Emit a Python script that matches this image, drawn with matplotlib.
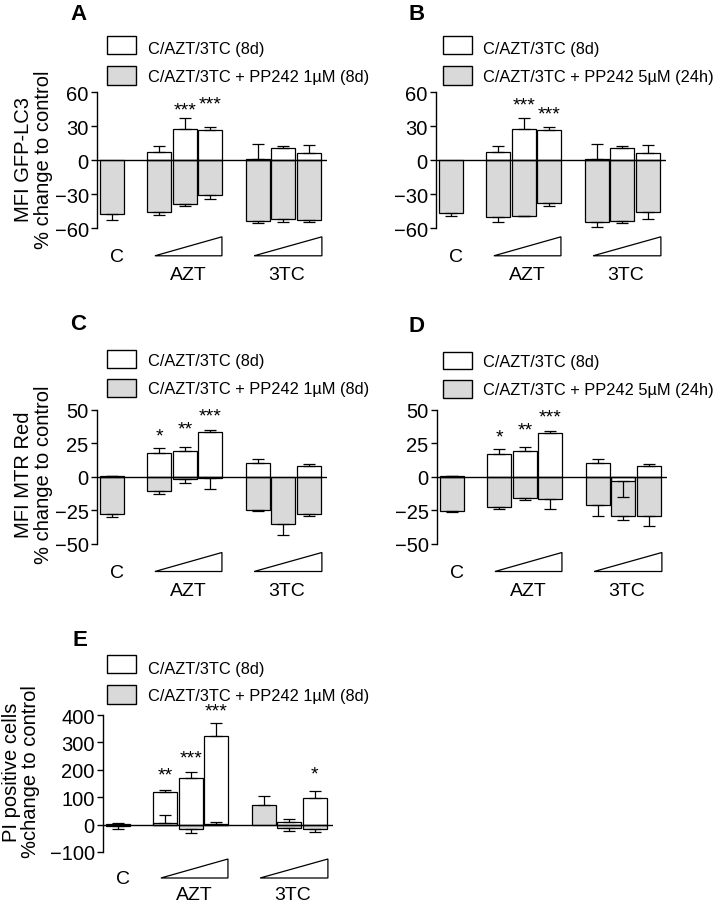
import numpy as np
import matplotlib
matplotlib.use("Agg")
import matplotlib.pyplot as plt
from matplotlib.patches import Rectangle, Polygon
from matplotlib import transforms

plt.rcParams['font.family'] = ['Liberation Sans', 'DejaVu Sans']

nan = np.nan
# ---------------- data ----------------
positions = [0.6, 2.45, 3.45, 4.45, 6.3, 7.3, 8.3]
legend_white = "C/AZT/3TC (8d)"
legend_grey_1 = "C/AZT/3TC + PP242 1\u00b5M (8d)"
legend_grey_5 = "C/AZT/3TC + PP242 5\u00b5M (24h)"

# Panel A: MFI GFP-LC3, PP242 1uM (8d)
A_white = [nan, 7.6, 27.6, 26.8, 1.0, 10.6, 6.5]
A_white_err = [nan, 5.0, 9.4, 2.3, 13.7, 2.0, 7.3]
A_grey = [-47.6, -45.6, -38.8, -30.9, -53.8, -52.0, -52.4]
A_grey_err = [5.4, 2.6, 1.5, 3.1, 1.8, 2.0, 2.0]
A_stars = ["", "", "***", "***", "", "", ""]
A_star_y = [nan, nan, 44.7, 50.0, nan, nan, nan]

# Panel B: MFI GFP-LC3, PP242 5uM (24h)
B_white = [nan, 7.6, 27.6, 26.8, 1.0, 10.6, 6.5]
B_white_err = [nan, 5.0, 9.4, 2.3, 13.7, 2.0, 7.3]
B_grey = [-46.5, -50.3, -49.1, -37.4, -54.7, -53.5, -45.3]
B_grey_err = [2.3, 3.7, 0.3, 3.2, 4.1, 2.1, 6.2]
B_stars = ["", "", "***", "***", "", "", ""]
B_star_y = [nan, nan, 49.0, 40.6, nan, nan, nan]

# Panel C: MFI MTR Red, PP242 1uM (8d)
C_white = [0.3, 17.6, 19.0, 33.2, 10.6, nan, 8.4]
C_white_err = [0.5, 3.9, 3.5, 1.5, 2.8, nan, 1.0]
C_grey = [-27.7, -10.4, -1.7, -0.5, -24.8, -35.4, -28.0]
C_grey_err = [2.3, 2.0, 2.8, 8.2, 0.4, 7.6, 1.5]
C_stars = ["", "*", "**", "***", "", "", ""]
C_star_y = [nan, 30.7, 35.6, 45.5, nan, nan, nan]

# Panel D: MFI MTR Red, PP242 5uM (24h)
D_white = [0.3, 17.1, 19.0, 32.9, 10.4, -3.2, 8.4]
D_white_err = [0.5, 3.9, 3.5, 1.5, 2.7, 11.7, 1.0]
D_grey = [-25.5, -22.5, -15.6, -16.6, -20.8, -29.4, -28.9]
D_grey_err = [0.5, 1.3, 2.0, 7.4, 8.4, 2.5, 7.9]
D_stars = ["", "*", "**", "***", "", "", ""]
D_star_y = [nan, 30.0, 34.7, 44.6, nan, nan, nan]

# Panel E: PI positive cells, PP242 1uM (8d)
E_white = [1.0, 118, 170, 325, nan, 11, 98]
E_white_err = [6, 10, 23, 45, nan, 9, 25]
E_grey = [-5, 7.4, -16, 4, 70, -12, -15]
E_grey_err = [12, 28, 15, 5, 35, 10, 12]
E_stars = ["", "**", "***", "***", "", "", "*"]
E_star_y = [nan, 182, 243, 415, nan, nan, 186]

category_labels = ["C", "AZT", "3TC"]
ylabels = {
    "A": "MFI GFP-LC3\n% change to control",
    "C": "MFI MTR Red\n% change to control",
    "E": "PI positive cells\n%change to control",
}

# ---------------- layout ----------------
W, H = 714, 903
fig = plt.figure(figsize=(W / 100, H / 100), dpi=100)
GREY = '#d9d9d9'


def fx(x):
    return x / W


def fy(y):
    return 1 - y / H


def make_axes(left, top, bottom, width=230):
    return fig.add_axes([fx(left), fy(bottom), width / W, (bottom - top) / H])


def draw_panel(ax, white, werr, grey, gerr, stars, star_y, ylim, yticks, ax_h_px,
               lab_off=(28, 8.5, 27.5, 46)):
    white = np.array(white, float)
    grey = np.array(grey, float)
    werr = np.array(werr, float)
    gerr = np.array(gerr, float)
    bw = 0.94
    ax.bar(positions, grey, width=bw, color=GREY, edgecolor='none', zorder=2)
    ax.bar(positions, white, width=bw, color='white', edgecolor='black', linewidth=0.9, zorder=3)
    ax.bar(positions, grey, width=bw, fill=False, edgecolor='black', linewidth=0.9, zorder=4)
    for vals, errs in ((white, werr), (grey, gerr)):
        up = np.where(vals >= 0, errs, 0)
        dn = np.where(vals < 0, errs, 0)
        ax.errorbar(positions, vals, yerr=[dn, up], fmt='none', ecolor='black',
                    elinewidth=0.9, capsize=4.3, capthick=0.9, zorder=5)
    ax.axhline(0, color='black', lw=1.0, zorder=4.5)
    for p, s, y in zip(positions, stars, star_y):
        if s:
            ax.text(p, y, s, ha='center', va='center', fontsize=14, zorder=6)
    ax.set_xlim(0, 9.02)
    ax.set_ylim(*ylim)
    ax.set_yticks(yticks)
    ax.set_xticks([])
    for sp in ('top', 'right', 'bottom'):
        ax.spines[sp].set_visible(False)
    ax.spines['left'].set_linewidth(1.0)
    ax.tick_params(axis='y', direction='out', length=4.5, width=1.0, labelsize=14.5, pad=1.5)
    # category labels and triangles
    tr = transforms.blended_transform_factory(ax.transData, ax.transAxes)
    c_off, t_top, t_bot, g_off = lab_off
    ax.text(0.78, -c_off / ax_h_px, category_labels[0], transform=tr, ha='center',
            va='center', fontsize=14, clip_on=False)
    for (x0, x1, xl, lab) in ((2.27, 4.9, 3.57, category_labels[1]),
                              (6.16, 8.82, 7.45, category_labels[2])):
        tri = Polygon([[x0, -t_bot / ax_h_px], [x1, -t_bot / ax_h_px], [x1, -t_top / ax_h_px]],
                      closed=True, fill=False, edgecolor='black', lw=0.9,
                      transform=tr, clip_on=False)
        ax.add_patch(tri)
        ax.text(xl, -g_off / ax_h_px, lab, transform=tr, ha='center', va='center',
                fontsize=14, clip_on=False)


def draw_legend(box_left, b1, b2, text_x, base1, base2, grey_label):
    for (t, b), color, lab, base in ((b1, 'white', legend_white, base1),
                                     (b2, GREY, grey_label, base2)):
        fig.patches.append(Rectangle((fx(box_left), fy(b)), 29 / W, (b - t) / H,
                                     transform=fig.transFigure, facecolor=color,
                                     edgecolor='black', lw=1.0))
        fig.text(fx(text_x), fy(base), lab, ha='left', va='baseline', fontsize=11.8)


def letter(x, base, s):
    fig.text(fx(x), fy(base), s, ha='left', va='baseline', fontsize=16, fontweight='bold')


# Panel A
axA = make_axes(97, 93.3, 229.3)
draw_panel(axA, A_white, A_white_err, A_grey, A_grey_err, A_stars, A_star_y,
           (-60, 60), [-60, -30, 0, 30, 60], 136)
draw_legend(107, (37, 55), (67, 86), 148, 54, 82.3, legend_grey_1)
letter(70, 20, "A")
axA.set_ylabel(ylabels["A"], fontsize=14.5, linespacing=1.05, va='center')
axA.yaxis.set_label_coords((33.5 - 97) / 230, (229.3 - 160) / 136)

# Panel B
axB = make_axes(436, 93.3, 229.3)
draw_panel(axB, B_white, B_white_err, B_grey, B_grey_err, B_stars, B_star_y,
           (-60, 60), [-60, -30, 0, 30, 60], 136)
draw_legend(443, (37, 55), (67, 86), 483, 54, 82.3, legend_grey_5)
letter(408, 19.5, "B")

# Panel C
axC = make_axes(97, 410.7, 545)
draw_panel(axC, C_white, C_white_err, C_grey, C_grey_err, C_stars, C_star_y,
           (-50, 50), [-50, -25, 0, 25, 50], 134.3)
draw_legend(107, (351, 369), (380, 398), 148, 366, 394, legend_grey_1)
letter(70, 330.5, "C")
axC.set_ylabel(ylabels["C"], fontsize=14.5, linespacing=1.05, va='center')
axC.yaxis.set_label_coords((33.5 - 97) / 230, (545 - 475) / 134.3)

# Panel D
axD = make_axes(437, 410.7, 545)
draw_panel(axD, D_white, D_white_err, D_grey, D_grey_err, D_stars, D_star_y,
           (-50, 50), [-50, -25, 0, 25, 50], 134.3)
draw_legend(443, (353, 370), (381, 399), 483, 367, 395, legend_grey_5)
letter(408, 331.5, "D")

# Panel E
axE = make_axes(103, 716, 853)
draw_panel(axE, E_white, E_white_err, E_grey, E_grey_err, E_stars, E_star_y,
           (-100, 400), [-100, 0, 100, 200, 300, 400], 137, lab_off=(26.5, 7, 26, 43))
draw_legend(107, (656, 674), (686, 705), 148, 674, 701, legend_grey_1)
letter(72, 646, "E")
axE.set_ylabel(ylabels["E"], fontsize=14.5, linespacing=1.05, va='center')
axE.yaxis.set_label_coords((21 - 103) / 230, (853 - 772) / 137)

fig.savefig("out.png", dpi=100)
